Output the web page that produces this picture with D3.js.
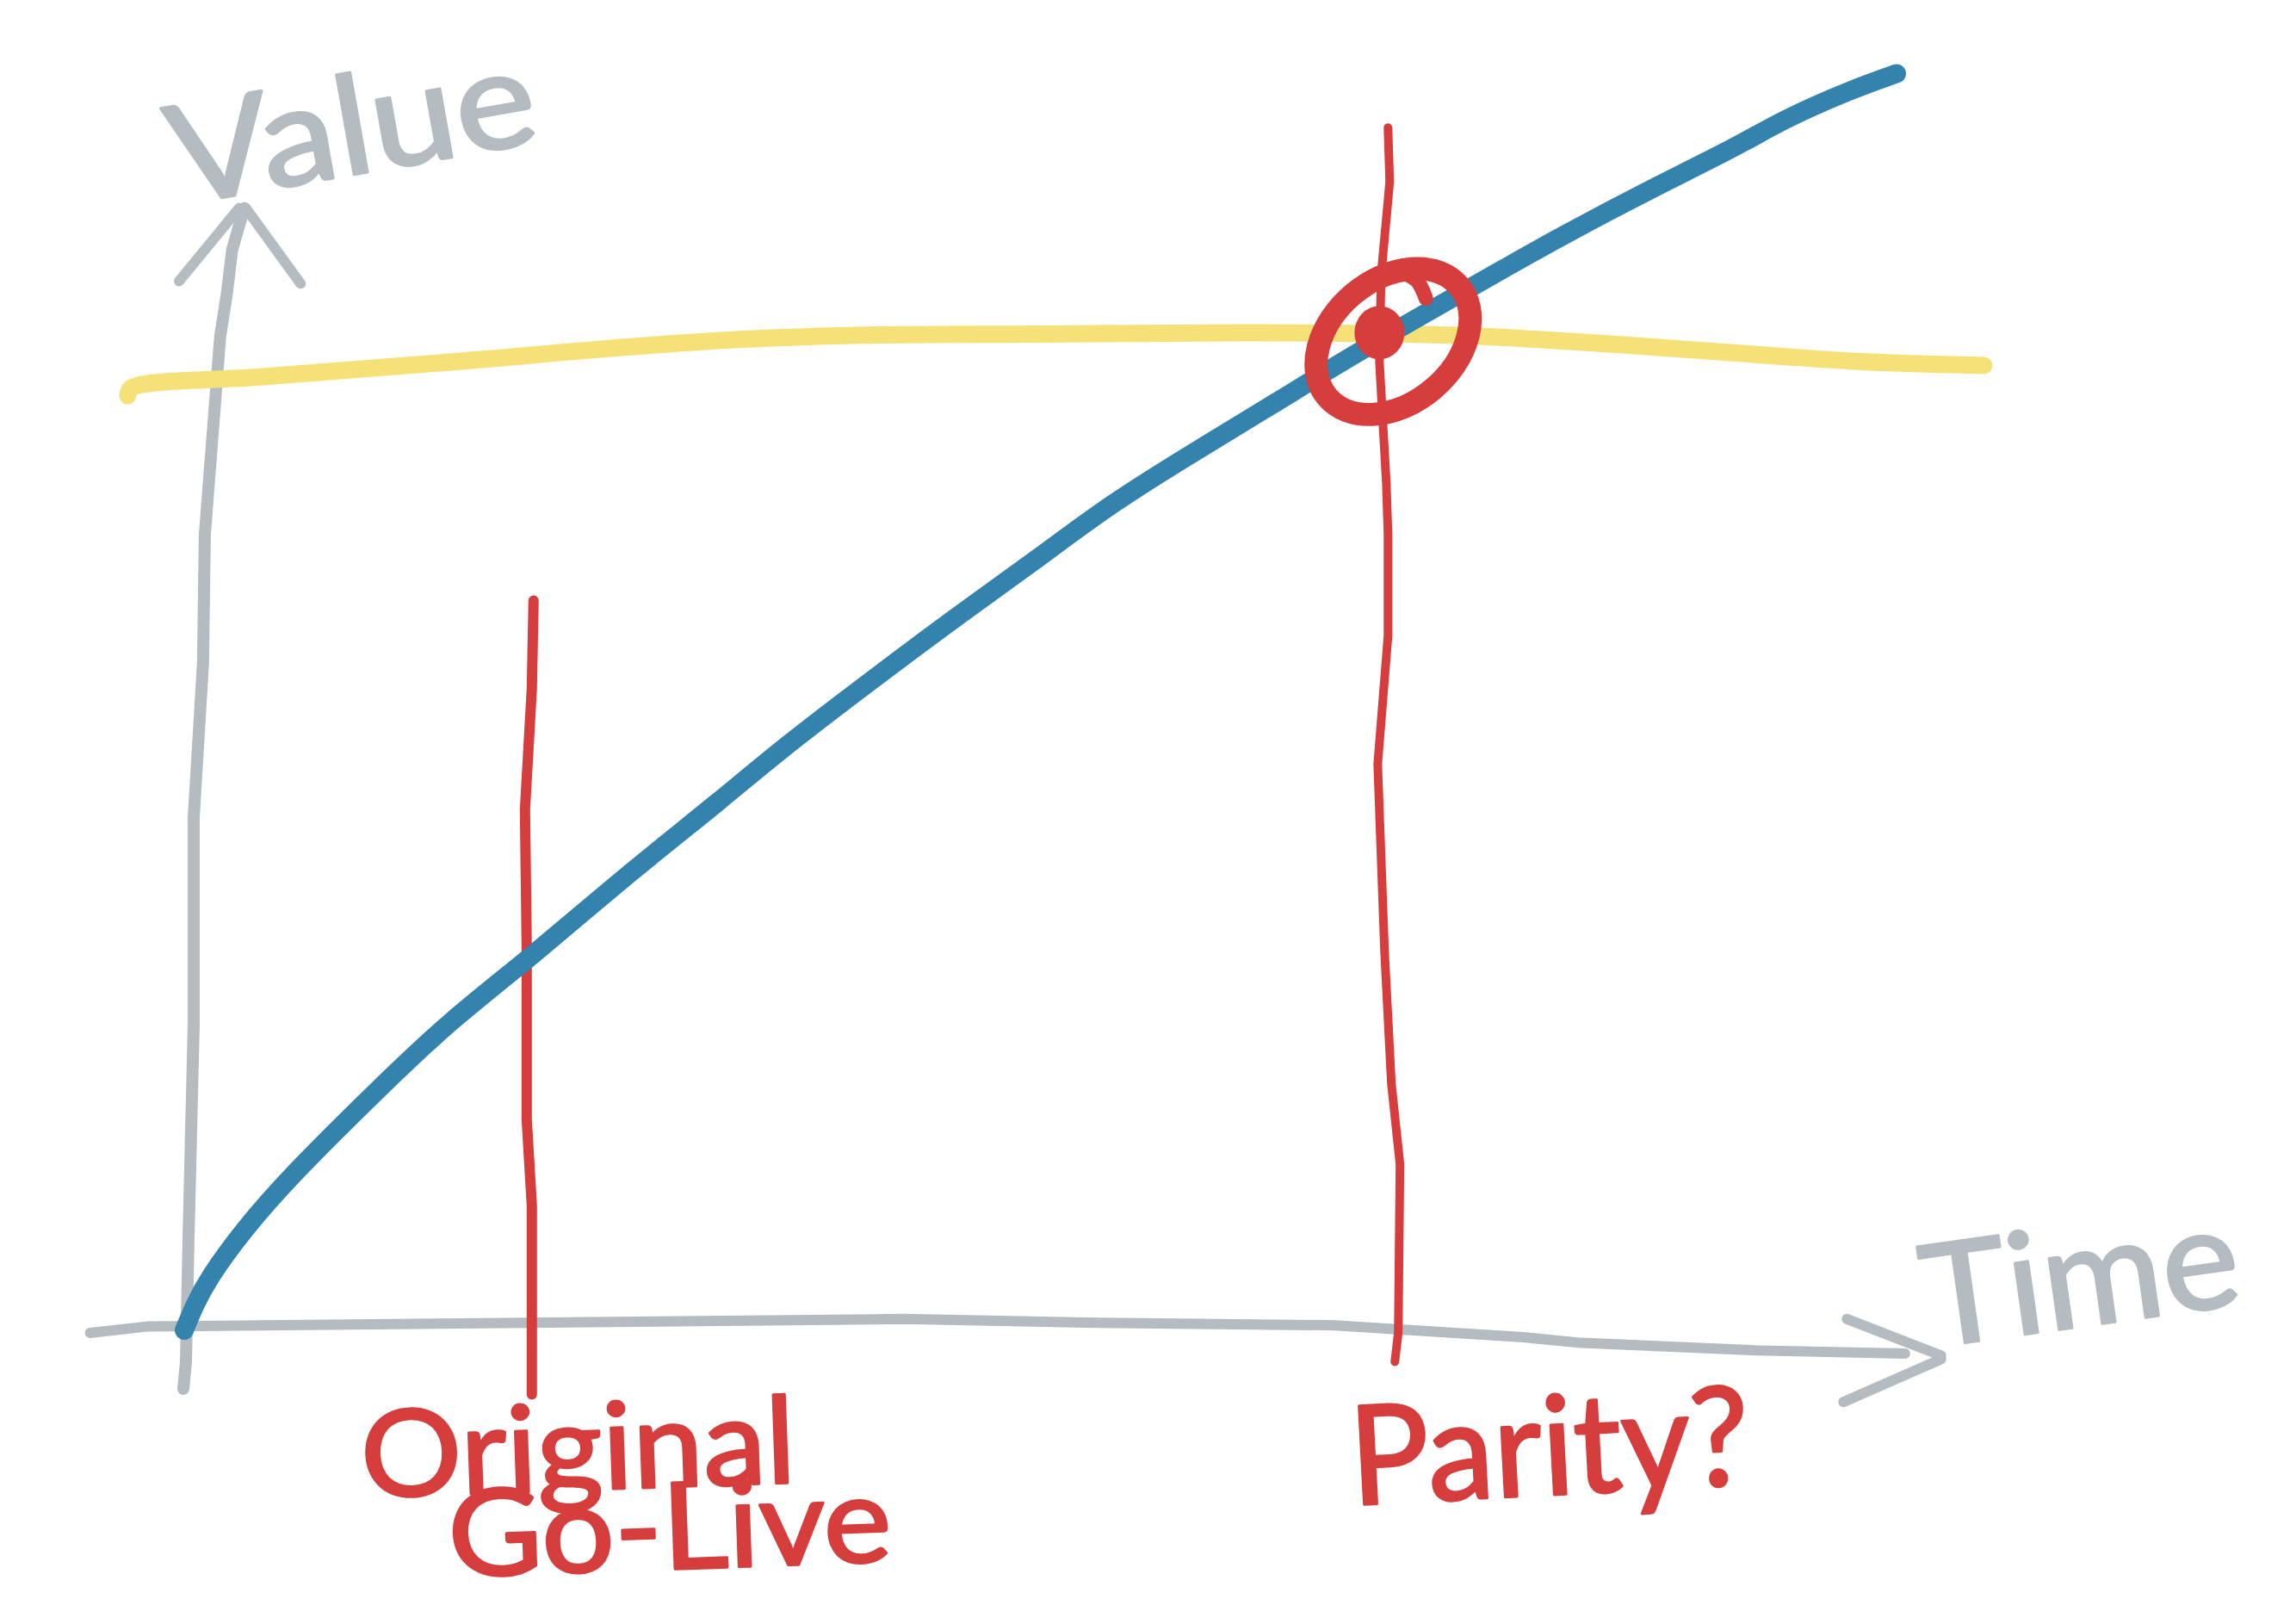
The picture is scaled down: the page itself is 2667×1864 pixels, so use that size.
<!DOCTYPE html>
<html>
<head>
<meta charset="utf-8">
<script src="https://cdn.jsdelivr.net/npm/d3@7"></script>
<style>
  html, body { margin: 0; padding: 0; background: #fff; }
  text { font-family: "Lato", "Open Sans", sans-serif; }
</style>
</head>
<body>
<div id="chart"></div>
<script>
// Values: time (0-100) and value (0-100), origin at the axis corner
const blueTime  = [0, 0.6, 1.4, 3.4, 6.3, 11.2, 15.5, 20.2, 26.1, 31.4, 35.1, 42.5, 46.2, 49.8, 54.2, 59.2, 63.7, 68.2, 74.1, 77.2, 80.6, 85.6, 90.7, 93.3, 97.3, 100];
const blueValue = [0, 2.0, 4.1, 7.9, 12.4, 19.0, 24.6, 29.6, 36.5, 42.2, 46.5, 54.1, 57.8, 61.3, 65.8, 70.0, 73.7, 77.5, 82.1, 84.5, 87.1, 90.7, 94.1, 96.2, 98.6, 99.9];

const yellowTime  = [-3.3, -3.1, 4.6, 14.9, 30.3, 39.5, 49.9, 61.6, 74.1, 85.4, 92.5, 97.9, 105.1];
const yellowValue = [74.3, 74.9, 75.8, 76.9, 78.6, 79.1, 79.2, 79.3, 79.1, 78.2, 77.5, 77.0, 76.7];

// the two red markers: "Original Go-Live" and "Parity?"
const goLiveTime  = [20.4, 20.3, 19.9, 20.0, 20.0, 20.3, 20.3, 20.3];
const goLiveValue = [58.0, 51.0, 41.4, 30.5, 16.8, 9.9, -0.3, -5.1];
const parityTime  = [70.3, 70.4, 69.9, 69.8, 70.2, 70.3, 70.3, 69.7, 70.1, 70.5, 71.0, 70.9, 70.7];
const parityValue = [95.6, 91.3, 83.9, 77.0, 67.4, 63.3, 55.2, 45.0, 30.1, 19.6, 13.2, -0.2, -2.5];

// crossing point that gets circled
const crossTime = 70.6, crossValue = 78.6;
const dotTime = 69.8, dotValue = 79.3;

// hand drawn axes
const yAxisTime  = [-0.05, 0.1, 0.25, 0.55, 0.55, 1.1, 1.2, 2.1, 2.5, 2.8, 3.5];
const yAxisValue = [-4.65, -2.5, 7.3, 24.2, 40.7, 53.1, 63.2, 79.0, 82.5, 85.9, 89.2];
const xAxisTime  = [-5.5, -2.2, 42.0, 53.4, 67.2, 78.2, 81.6, 91.9, 100.5];
const xAxisValue = [-0.2, 0.3, 0.9, 0.6, 0.4, -0.55, -1.0, -1.6, -1.85];
const yArrowTime  = [-0.3, 3.2, 3.6, 6.8];
const yArrowValue = [83.4, 89.2, 89.2, 83.2];
const xArrowTime  = [97.1, 102.6, 102.6, 96.9];
const xArrowValue = [0.9, -2.0, -2.3, -5.7];

const axisLabels = ["Value", "Time"];
const markerLabels = ["Original", "Go-Live", "Parity?"];

const W = 2667, H = 1864;
const grey = "#b4bbc1", blue = "#3483ae", yellow = "#f6e178", red = "#d63d3d";

const svg = d3.select("#chart").append("svg")
  .attr("width", W)
  .attr("height", H);
svg.append("rect").attr("width", W).attr("height", H).attr("fill", "#fff");

const x = d3.scaleLinear().domain([0, 100]).range([214, 2203]);
const y = d3.scaleLinear().domain([0, 100]).range([1545, 84]);

const zip = (ts, vs) => ts.map((t, i) => [t, vs[i]]);
const line = d3.line().x(d => x(d[0])).y(d => y(d[1]));
const smooth = d3.line().x(d => x(d[0])).y(d => y(d[1])).curve(d3.curveBasis);
const through = d3.line().x(d => x(d[0])).y(d => y(d[1])).curve(d3.curveCatmullRom.alpha(0.5));

function stroke(pts, color, width, gen) {
  svg.append("path")
    .attr("d", (gen || smooth)(pts))
    .attr("fill", "none")
    .attr("stroke", color)
    .attr("stroke-width", width)
    .attr("stroke-linecap", "round")
    .attr("stroke-linejoin", "round");
}

// axes
stroke(zip(yAxisTime, yAxisValue), grey, 14, line);
stroke(zip(xAxisTime, xAxisValue), grey, 12, line);
stroke(zip(yArrowTime.slice(0, 2), yArrowValue.slice(0, 2)), grey, 12, line);
stroke(zip(yArrowTime.slice(2), yArrowValue.slice(2)), grey, 12, line);
stroke(zip(xArrowTime.slice(0, 2), xArrowValue.slice(0, 2)), grey, 12, line);
stroke(zip(xArrowTime.slice(2), xArrowValue.slice(2)), grey, 12, line);

// yellow level and red markers
stroke(zip(yellowTime, yellowValue), yellow, 20, through);
stroke(zip(goLiveTime, goLiveValue), red, 12, line);
stroke(zip(parityTime, parityValue), red, 10, line);

// blue growth curve
stroke(zip(blueTime, blueValue), blue, 22);

// circle round the crossing
const cx = x(crossTime), cy = y(crossValue);
svg.append("ellipse")
  .attr("cx", cx).attr("cy", cy)
  .attr("rx", 100).attr("ry", 72)
  .attr("transform", `rotate(-40,${cx},${cy})`)
  .attr("fill", "none")
  .attr("stroke", red)
  .attr("stroke-width", 27);
svg.append("path")
  .attr("d", d3.line().curve(d3.curveCatmullRom)([[cx - 42, cy - 64], [cx - 8, cy - 82], [cx + 26, cy - 72], [cx + 38, cy - 50]]))
  .attr("fill", "none")
  .attr("stroke", red)
  .attr("stroke-width", 17)
  .attr("stroke-linecap", "round");
svg.append("ellipse")
  .attr("cx", x(dotTime)).attr("cy", y(dotValue))
  .attr("rx", 29).attr("ry", 31)
  .attr("fill", red);

// hand written labels
function label(txt, px, py, size, len, angle, color) {
  svg.append("text")
    .attr("x", px).attr("y", py)
    .attr("font-size", size)
    .attr("textLength", len)
    .attr("lengthAdjust", "spacingAndGlyphs")
    .attr("transform", `rotate(${angle},${px},${py})`)
    .attr("fill", color)
    .attr("stroke", color)
    .attr("stroke-width", 3)
    .attr("stroke-linejoin", "round")
    .text(txt);
}

label(axisLabels[0], x(-0.4), y(89.4), 160, 430, -10, grey);
label(axisLabels[1], x(101.9), y(-1.4), 165, 370, -8, grey);
label(markerLabels[0], x(10.4), y(-13.3), 140, 505, -2, red);
label(markerLabels[1], x(15.5), y(-19.6), 140, 515, -2, red);
label(markerLabels[2], x(68.2), y(-13.9), 160, 465, -3, red);
</script>
</body>
</html>
